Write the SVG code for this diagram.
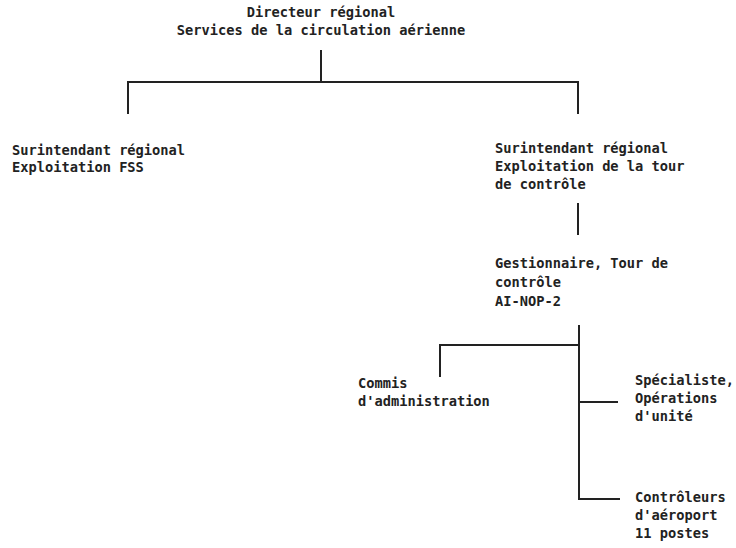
<svg xmlns="http://www.w3.org/2000/svg" width="736" height="548" viewBox="0 0 736 548">
<style>
text{font-family:"DejaVu Sans Mono","Liberation Mono",monospace;font-size:13.7px;font-weight:bold;fill:#222}
.c{text-anchor:middle}
#connectors path{fill:none;stroke:#222;stroke-width:2}
</style>
<rect width="736" height="548" fill="#fff"/>
<g id="connectors">
<path d="M321 50V82M128 114V82H578V114"/>
<path d="M578 203V235"/>
<path d="M579 325V499H620M579 345H440V377M579 402H618"/>
</g>
<g id="directeur">
<text class="c" x="321" y="17">Directeur régional</text>
<text class="c" x="321" y="35">Services de la circulation aérienne</text>
</g>
<g id="surintendant-fss">
<text x="12" y="155">Surintendant régional</text>
<text x="12" y="172">Exploitation FSS</text>
</g>
<g id="surintendant-tour">
<text x="495" y="153">Surintendant régional</text>
<text x="495" y="171">Exploitation de la tour</text>
<text x="495" y="189">de contrôle</text>
</g>
<g id="gestionnaire">
<text x="495" y="268">Gestionnaire, Tour de</text>
<text x="495" y="287">contrôle</text>
<text x="495" y="306">AI-NOP-2</text>
</g>
<g id="commis">
<text x="358" y="388">Commis</text>
<text x="358" y="406">d'administration</text>
</g>
<g id="specialiste">
<text x="635" y="385">Spécialiste,</text>
<text x="635" y="403">Opérations</text>
<text x="635" y="421">d'unité</text>
</g>
<g id="controleurs">
<text x="635" y="502">Contrôleurs</text>
<text x="635" y="520">d'aéroport</text>
<text x="635" y="538">11 postes</text>
</g>
</svg>
